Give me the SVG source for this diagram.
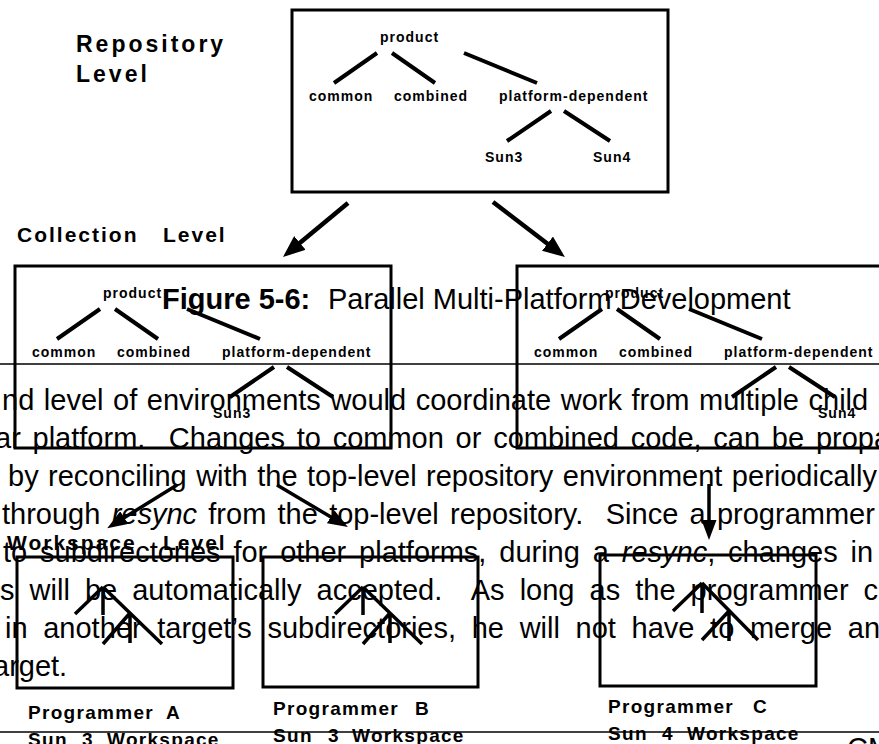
<svg xmlns="http://www.w3.org/2000/svg" width="879" height="744" viewBox="0 0 879 744">
<style>
.box{fill:none;stroke:#000;stroke-width:3}
.br{fill:none;stroke:#000;stroke-width:4}
.wb{fill:none;stroke:#000;stroke-width:3.5}
.lbl{font-family:"Liberation Sans",Arial,sans-serif;font-weight:bold;font-size:14px;letter-spacing:1px;fill:#000}
.lvl{font-family:"Liberation Sans",Arial,sans-serif;font-weight:bold;font-size:21px;letter-spacing:2px;fill:#000}
.rep{font-family:"Liberation Sans",Arial,sans-serif;font-weight:bold;font-size:23px;letter-spacing:3px;fill:#000}
.prog{font-family:"Liberation Sans",Arial,sans-serif;font-weight:bold;font-size:19px;letter-spacing:1.3px;fill:#000}
.body{font-family:"Liberation Sans",Arial,sans-serif;font-size:29px;fill:#000}
.rule{stroke:#000;stroke-width:1.3}
.arr{fill:none;stroke:#000;stroke-width:4.5}
.arr2{fill:none;stroke:#000;stroke-width:3.5}
</style>
<defs>
<marker id="ah" markerUnits="userSpaceOnUse" viewBox="0 0 22 18" markerWidth="22" markerHeight="18" refX="12" refY="9" orient="auto">
<path d="M0,0 L22,9 L0,18 z" fill="#000"/>
</marker>
<marker id="ah2" markerUnits="userSpaceOnUse" viewBox="0 0 20 15" markerWidth="20" markerHeight="15" refX="12" refY="7.5" orient="auto">
<path d="M0,0 L20,7.5 L0,15 z" fill="#000"/>
</marker>
</defs>
<rect width="879" height="744" fill="#fff"/>

<!-- page rules -->
<line class="rule" x1="0" y1="364" x2="879" y2="364"/>
<line class="rule" x1="0" y1="732" x2="879" y2="732"/>

<!-- level labels -->
<g id="repository-level">
<text class="rep" x="76" y="52">Repository</text>
<text class="rep" x="76" y="82">Level</text>
</g>
<g id="collection-level">
<text class="lvl" x="17" y="242">Collection</text>
<text class="lvl" x="163" y="242">Level</text>
</g>
<g id="workspace-level">
<text class="lvl" x="7" y="550">Workspace</text>
<text class="lvl" x="163" y="550">Level</text>
</g>

<!-- repository box -->
<g id="repository">
<rect class="box" x="292" y="10" width="376" height="182"/>
<text class="lbl" x="380" y="42" letter-spacing="3">product</text>
<path class="br" d="M377,53 L334,83 M392,53 L435,83 M464,53 L537,83 M551,111 L507,141 M564,111 L610,141"/>
<text class="lbl" x="309" y="101">common</text>
<text class="lbl" x="394" y="101">combined</text>
<text class="lbl" x="499" y="101">platform-dependent</text>
<text class="lbl" x="485" y="162" letter-spacing="2">Sun3</text>
<text class="lbl" x="593" y="162">Sun4</text>
</g>

<!-- collection box Sun3 -->
<g id="collection-sun3" transform="translate(-277,256)">
<rect class="box" x="292" y="10" width="376" height="182"/>
<text class="lbl" x="380" y="42" letter-spacing="3">product</text>
<path class="br" d="M377,53 L334,83 M392,53 L435,83 M464,53 L537,83 M551,111 L507,141 M564,111 L610,141"/>
<text class="lbl" x="309" y="101">common</text>
<text class="lbl" x="394" y="101">combined</text>
<text class="lbl" x="499" y="101">platform-dependent</text>
<text class="lbl" x="490" y="162" letter-spacing="2">Sun3</text>
</g>

<!-- collection box Sun4 -->
<g id="collection-sun4" transform="translate(225,256)">
<rect class="box" x="292" y="10" width="376" height="182"/>
<text class="lbl" x="380" y="42" letter-spacing="3">product</text>
<path class="br" d="M377,53 L334,83 M392,53 L435,83 M464,53 L537,83 M551,111 L507,141 M564,111 L610,141"/>
<text class="lbl" x="309" y="101">common</text>
<text class="lbl" x="394" y="101">combined</text>
<text class="lbl" x="499" y="101">platform-dependent</text>
<text class="lbl" x="593" y="162">Sun4</text>
</g>

<!-- workspaces -->
<g id="workspace-a">
<rect class="box" x="17" y="557" width="216" height="131"/>
<path class="wb" transform="translate(103,587)" d="M0,0 L-28,27 M0,0 L0,28 M0,0 L59,57 M27,26 L0,57 M27,26 L27,56"/>
<text class="prog" x="28" y="719">Programmer</text>
<text class="prog" x="166" y="719">A</text>
<text class="prog" y="746"><tspan x="28">Sun</tspan><tspan x="82">3</tspan><tspan x="107">Workspace</tspan></text>
</g>
<g id="workspace-b">
<rect class="box" x="263" y="557" width="215" height="130"/>
<path class="wb" transform="translate(363,587)" d="M0,0 L-28,27 M0,0 L0,28 M0,0 L59,57 M27,26 L0,57 M27,26 L27,56"/>
<text class="prog" x="273" y="715">Programmer</text>
<text class="prog" x="415" y="715">B</text>
<text class="prog" y="742"><tspan x="273">Sun</tspan><tspan x="328">3</tspan><tspan x="352">Workspace</tspan></text>
</g>
<g id="workspace-c">
<rect class="box" x="600" y="555" width="216" height="131"/>
<path class="wb" transform="translate(702,583)" d="M0,0 L-29,28 M0,0 L0,30 M0,0 L56,57 M27,28 L0,57 M27,28 L27,58"/>
<text class="prog" x="608" y="713">Programmer</text>
<text class="prog" x="753" y="713">C</text>
<text class="prog" y="740"><tspan x="608">Sun</tspan><tspan x="662">4</tspan><tspan x="687">Workspace</tspan></text>
</g>

<!-- connectors -->
<g id="connectors">
<line class="arr" x1="348" y1="203" x2="290.7" y2="250.6" marker-end="url(#ah)"/>
<line class="arr" x1="493" y1="202" x2="557" y2="251" marker-end="url(#ah)"/>
<line class="arr2" x1="177" y1="485" x2="114" y2="524" marker-end="url(#ah2)"/>
<line class="arr2" x1="277" y1="485" x2="341" y2="523" marker-end="url(#ah2)"/>
<line class="arr2" x1="709" y1="484" x2="709" y2="532" marker-end="url(#ah2)"/>
</g>

<!-- caption -->
<g id="caption">
<text class="body" x="162" y="309" font-weight="bold">Figure 5-6:</text>
<text class="body" x="328" y="309">Parallel Multi-Platform Development</text>
</g>

<!-- body text -->
<g id="body-text">
<text class="body" x="2" y="410" word-spacing="1.5">nd level of environments would coordinate work from multiple child</text>
<text class="body" x="-5" y="448" word-spacing="3.7" xml:space="preserve">ar platform.  Changes to common or combined code, can be propa</text>
<text class="body" x="8" y="486" word-spacing="1.4">by reconciling with the top-level repository environment periodically</text>
<text class="body" x="2" y="524" word-spacing="3.2" xml:space="preserve">through <tspan font-style="italic">resync</tspan> from the top-level repository.  Since a programmer</text>
<text class="body" x="3" y="562" word-spacing="4.8" xml:space="preserve">to subdirectories for other platforms, during a <tspan font-style="italic">resync</tspan>, changes in</text>
<text class="body" x="0" y="600" word-spacing="7" xml:space="preserve">s will be automatically accepted.  As long as the programmer c</text>
<text class="body" x="5" y="638" word-spacing="7.6">in another target’s subdirectories, he will not have to merge an</text>
<text class="body" x="-7" y="676">arget.</text>
<text class="body" x="847" y="758">CM</text>
</g>
</svg>
